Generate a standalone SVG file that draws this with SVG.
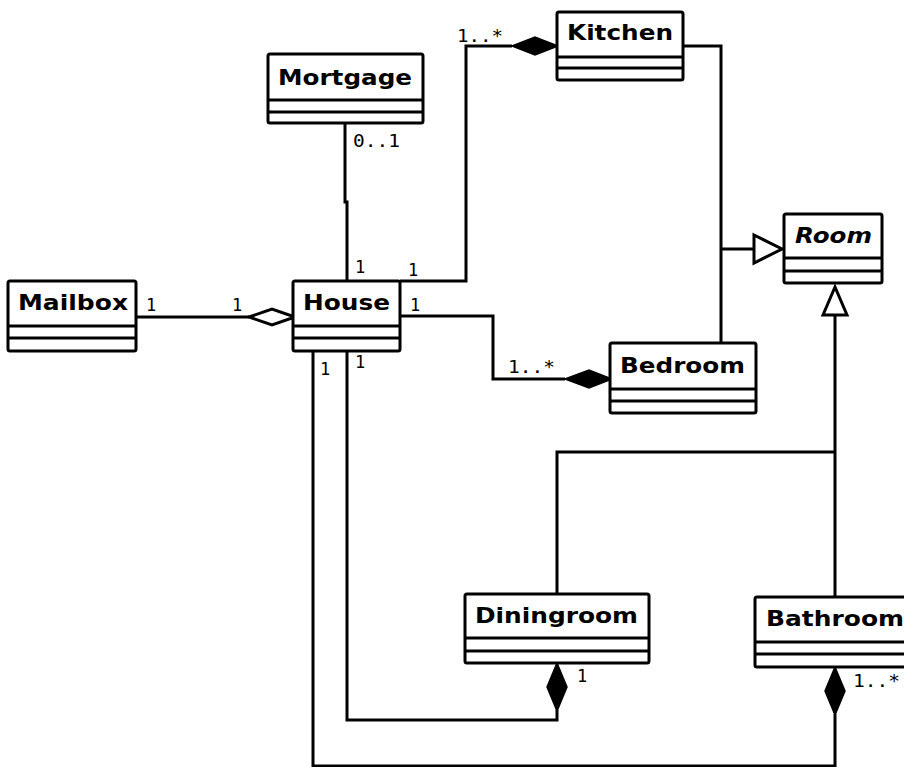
<svg xmlns="http://www.w3.org/2000/svg" width="904" height="767" viewBox="0 0 904 767">
  <style>
    .box { fill: #fff; stroke: #000; stroke-width: 3; }
    .sep { stroke: #000; stroke-width: 3; }
    .name { font-family: "DejaVu Sans", "Liberation Sans", sans-serif; font-weight: bold; font-size: 22px; fill: #000; }
    .abstract { font-style: italic; }
    .mult { font-family: "DejaVu Sans Mono", "Liberation Mono", monospace; font-size: 17px; fill: #000; }
    .wire { fill: none; stroke: #000; stroke-width: 3; }
    .solid { fill: #000; stroke: #000; stroke-width: 1.5; }
    .hollow { fill: #fff; stroke: #000; stroke-width: 3; }
  </style>
  <rect width="904" height="767" fill="#fff"/>

  <!-- associations and generalisations -->
  <g id="connectors">
    <!-- Mortgage - House -->
    <polyline class="wire" points="345,124 345,202 347,202 347,281"/>
    <!-- House - Kitchen -->
    <polyline class="wire" points="400,281 466,281 466,46 512,46"/>
    <polygon class="solid" points="512,46 535,37 558,46 535,55"/>
    <!-- House - Bedroom -->
    <polyline class="wire" points="400,316 493,316 493,379 565,379"/>
    <polygon class="solid" points="565,379 589,370 612,379 589,388"/>
    <!-- Mailbox - House -->
    <line class="wire" x1="136" y1="317" x2="249" y2="317"/>
    <polygon class="hollow" points="249,317 272,309 295,317 272,325"/>
    <!-- Kitchen / Bedroom generalise Room -->
    <polyline class="wire" points="683,46 721,46 721,343"/>
    <line class="wire" x1="721" y1="249" x2="754" y2="249"/>
    <polygon class="hollow" points="754,235 782,249 754,263"/>
    <!-- Diningroom / Bathroom generalise Room -->
    <line class="wire" x1="835" y1="315" x2="835" y2="597"/>
    <polyline class="wire" points="557,594 557,452 835,452"/>
    <polygon class="hollow" points="823,315 835,287 847,315"/>
    <!-- House - Diningroom -->
    <polyline class="wire" points="347,351 347,720 557,720 557,710"/>
    <polygon class="solid" points="557,663 567,687 557,711 547,687"/>
    <!-- House - Bathroom -->
    <polyline class="wire" points="313,351 313,766 835,766 835,714"/>
    <polygon class="solid" points="835,667 845,691 835,715 825,691"/>

    <!-- multiplicities -->
    <text class="mult" x="353" y="147" textLength="47" lengthAdjust="spacingAndGlyphs">0..1</text>
    <text class="mult" x="355" y="273">1</text>
    <text class="mult" x="408" y="276">1</text>
    <text class="mult" x="457" y="42" textLength="46" lengthAdjust="spacingAndGlyphs">1..*</text>
    <text class="mult" x="146" y="311">1</text>
    <text class="mult" x="232" y="311">1</text>
    <text class="mult" x="410" y="311">1</text>
    <text class="mult" x="508" y="373" textLength="47" lengthAdjust="spacingAndGlyphs">1..*</text>
    <text class="mult" x="320" y="375">1</text>
    <text class="mult" x="355" y="368">1</text>
    <text class="mult" x="577" y="682">1</text>
    <text class="mult" x="853" y="687" textLength="47" lengthAdjust="spacingAndGlyphs">1..*</text>
  </g>

  <g id="mortgage">
    <rect class="box" x="268" y="54" width="155" height="69" rx="2"/>
    <line class="sep" x1="268" y1="100" x2="423" y2="100"/>
    <line class="sep" x1="268" y1="112" x2="423" y2="112"/>
    <text class="name" x="278" y="85" textLength="134" lengthAdjust="spacingAndGlyphs">Mortgage</text>
  </g>

  <g id="kitchen">
    <rect class="box" x="557" y="12" width="126" height="68" rx="2"/>
    <line class="sep" x1="557" y1="57" x2="683" y2="57"/>
    <line class="sep" x1="557" y1="68" x2="683" y2="68"/>
    <text class="name" x="567" y="40" textLength="106" lengthAdjust="spacingAndGlyphs">Kitchen</text>
  </g>

  <g id="mailbox">
    <rect class="box" x="8" y="281" width="128" height="70" rx="2"/>
    <line class="sep" x1="8" y1="326" x2="136" y2="326"/>
    <line class="sep" x1="8" y1="338" x2="136" y2="338"/>
    <text class="name" x="18" y="310" textLength="110" lengthAdjust="spacingAndGlyphs">Mailbox</text>
  </g>

  <g id="house">
    <rect class="box" x="293" y="281" width="107" height="70" rx="2"/>
    <line class="sep" x1="293" y1="326" x2="400" y2="326"/>
    <line class="sep" x1="293" y1="338" x2="400" y2="338"/>
    <text class="name" x="303" y="310" textLength="87" lengthAdjust="spacingAndGlyphs">House</text>
  </g>

  <g id="room">
    <rect class="box" x="784" y="214" width="98" height="69" rx="2"/>
    <line class="sep" x1="784" y1="258" x2="882" y2="258"/>
    <line class="sep" x1="784" y1="271" x2="882" y2="271"/>
    <text class="name abstract" x="795" y="243" textLength="77" lengthAdjust="spacingAndGlyphs">Room</text>
  </g>

  <g id="bedroom">
    <rect class="box" x="610" y="343" width="146" height="70" rx="2"/>
    <line class="sep" x1="610" y1="389" x2="756" y2="389"/>
    <line class="sep" x1="610" y1="401" x2="756" y2="401"/>
    <text class="name" x="620" y="373" textLength="125" lengthAdjust="spacingAndGlyphs">Bedroom</text>
  </g>

  <g id="diningroom">
    <rect class="box" x="465" y="594" width="184" height="69" rx="2"/>
    <line class="sep" x1="465" y1="638" x2="649" y2="638"/>
    <line class="sep" x1="465" y1="651" x2="649" y2="651"/>
    <text class="name" x="475" y="623" textLength="163" lengthAdjust="spacingAndGlyphs">Diningroom</text>
  </g>

  <g id="bathroom">
    <rect class="box" x="755" y="597" width="160" height="70" rx="2"/>
    <line class="sep" x1="755" y1="642" x2="915" y2="642"/>
    <line class="sep" x1="755" y1="654" x2="915" y2="654"/>
    <text class="name" x="766" y="626" textLength="138" lengthAdjust="spacingAndGlyphs">Bathroom</text>
  </g>
</svg>
